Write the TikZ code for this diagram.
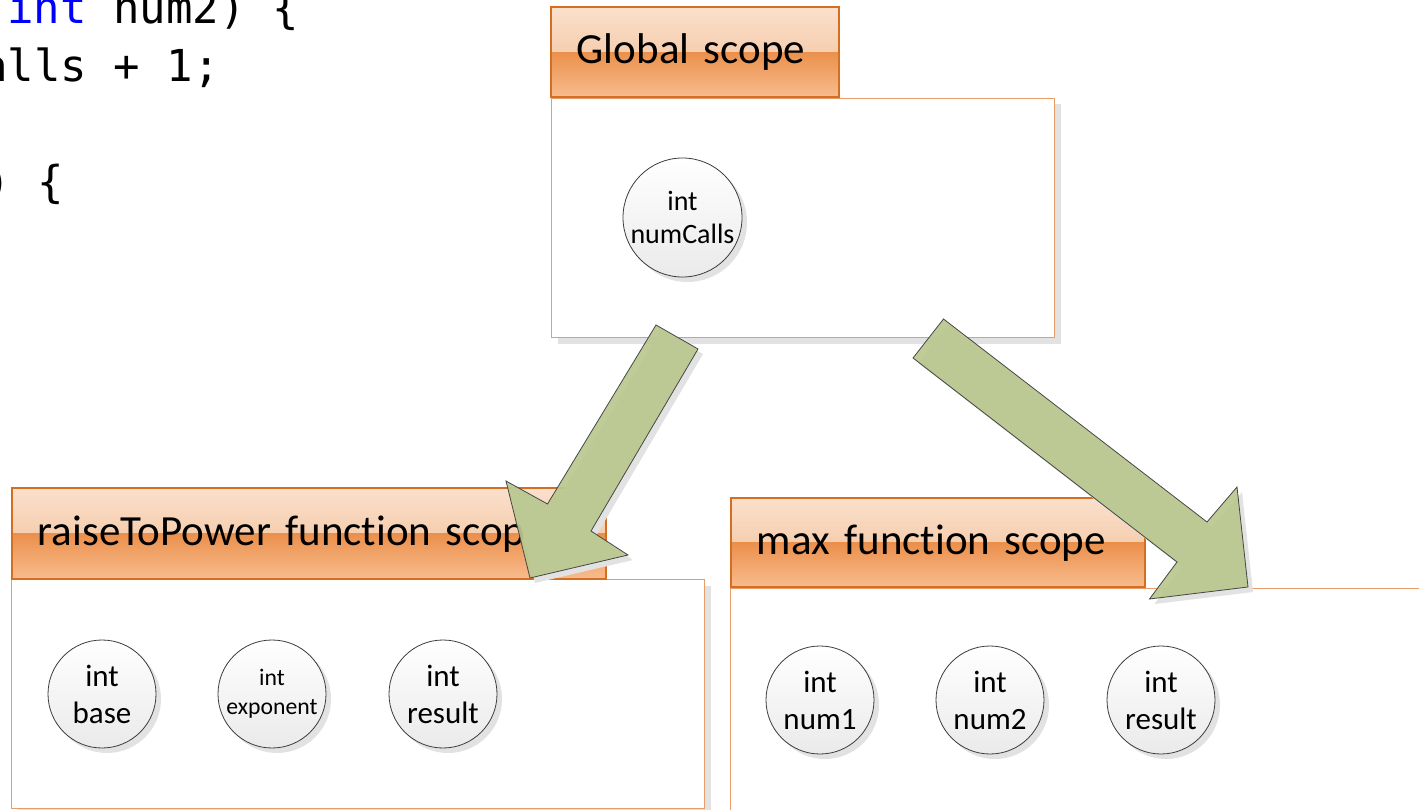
\documentclass[tikz,border=0pt]{standalone}
\usepackage{fontspec}
\setmainfont{Carlito}[Ligatures=NoCommon]
\newfontfamily\codefont{DejaVu Sans Mono}
\usetikzlibrary{shadows}
\definecolor{hdrtopA}{RGB}{250,224,204}
\definecolor{hdrtopB}{RGB}{242,188,146}
\definecolor{hdrbotA}{RGB}{235,144,76}
\definecolor{hdrbotB}{RGB}{248,188,142}
\definecolor{hdrline}{RGB}{212,110,32}
\definecolor{bodyline}{RGB}{232,156,106}
\definecolor{shadowgray}{RGB}{226,226,226}
\definecolor{arrowgreen}{RGB}{186,200,143}
\definecolor{arrowline}{RGB}{70,70,70}
\definecolor{circline}{RGB}{60,60,60}
\definecolor{circbot}{RGB}{234,234,234}
\definecolor{kwblue}{RGB}{0,0,255}
\begin{document}
\begin{tikzpicture}[x=1pt,y=-1pt,
  hdr/.style={draw=hdrline, line width=1.6pt, anchor=south west, inner xsep=26pt, inner ysep=0pt,
    align=left, font=\fontsize{43}{52}\selectfont,
    path picture={
      \shade[top color=hdrtopA,bottom color=hdrtopB] (path picture bounding box.north west) rectangle (path picture bounding box.east);
      \shade[top color=hdrbotA,bottom color=hdrbotB] (path picture bounding box.west) rectangle (path picture bounding box.south east);
    }},
  bodybox/.style={draw=bodyline, line width=1pt, fill=white, anchor=north west, inner sep=0pt,
    drop shadow={shadow xshift=6pt, shadow yshift=-6pt, fill=shadowgray, opacity=1}},
  var/.style={circle, draw=circline, line width=0.8pt, top color=white, bottom color=circbot,
    minimum size=108pt, inner sep=0pt, align=center, font=\fontsize{31}{37}\selectfont,
    drop shadow={shadow xshift=5pt, shadow yshift=-5pt, fill=shadowgray, opacity=1}},
  bigarrow/.style={draw=arrowline, line width=0.8pt, fill=arrowgreen, fill opacity=0.93, line join=miter,
    drop shadow={shadow xshift=5pt, shadow yshift=-5pt, fill=shadowgray, opacity=1}},
  code/.style={inner sep=0pt, anchor=base west, font=\codefont\fontsize{44}{52}\selectfont}
]
\useasboundingbox (0,0) rectangle (1419,810);
\clip (0,0) rectangle (1419,810);

% code fragment
\node[code] (c1) at (7,24) {\textcolor{kwblue}{int} num2) \{};
\node[code] (c2) at (-19,82) {alls + 1;};
\node[code] (c3) at (-16,198) {) \{};

% global scope
\node[bodybox, minimum width=503pt, minimum height=239pt] (gbody) at (551,98) {};
\node[hdr, text width=236pt, minimum height=90pt] (ghdr) at (550,98) {Global scope};
\node[var, minimum size=119pt, font=\fontsize{28}{33.5}\selectfont] (numcalls) at (682.5,217.5) {int\\numCalls};

% raiseToPower scope
\node[bodybox, minimum width=693pt, minimum height=229pt] (rbody) at (11,579) {};
\node[hdr, text width=542pt, minimum height=91pt] (rhdr) at (11,580) {raiseToPower function scope};
\node[var] (base) at (102,694) {int\\base};
\node[var, font=\fontsize{23.7}{28.5}\selectfont] (exponent) at (272,694) {int\\exponent};
\node[var] (rresult) at (443,694) {int\\result};

% max scope
\node[bodybox, minimum width=720pt, minimum height=260pt] (mbody) at (730,588) {};
\node[hdr, text width=362pt, minimum height=89pt] (mhdr) at (730,588) {max function scope};
\node[var] (num1) at (820,700) {int\\num1};
\node[var] (num2) at (990,700) {int\\num2};
\node[var] (mresult) at (1161,700) {int\\result};

% block arrows
\draw[bigarrow] (656,325) -- (698,349) -- (591,531) -- (628,555) -- (530,578) -- (506,481) -- (547.5,504) -- cycle;
\draw[bigarrow] (943.5,319) -- (1207,522) -- (1237,487) -- (1248,587) -- (1149.5,599) -- (1177,562) -- (913,358) -- cycle;
\end{tikzpicture}
\end{document}
